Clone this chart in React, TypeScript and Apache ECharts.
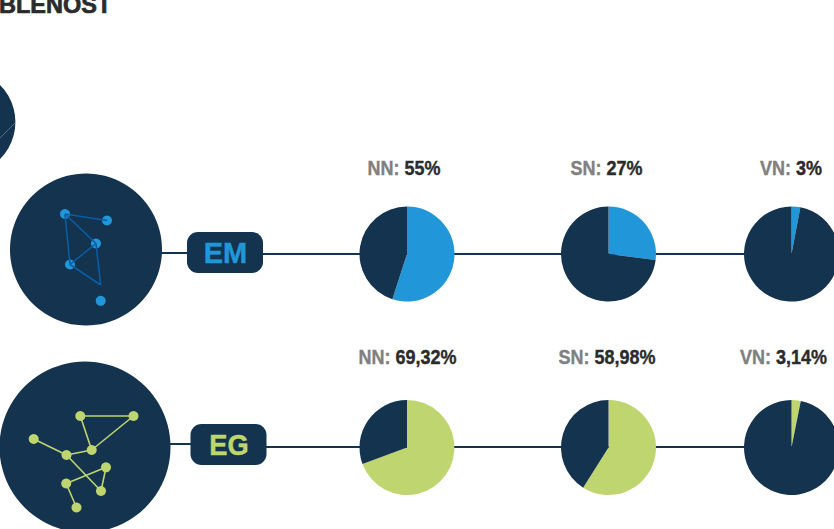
import React, { useEffect, useRef } from "react";
import * as echarts from "echarts";

const NAVY = "#13334e";
const BLUE = "#2196d8";
const GREEN = "#bfd56f";
const GREY = "#808080";
const INK = "#2b2b2b";
const SANS = "'Liberation Sans', sans-serif";

const levels = ["NN", "SN", "VN"];
const emValues = [55, 27, 3];
const emTexts = ["55%", "27%", "3%"];
const egValues = [69.32, 58.98, 3.14];
const egTexts = ["69,32%", "58,98%", "3,14%"];
const pieX = [407, 608.5, 791.5];
const labelX = [404, 606.5, 791];
const labelXEg = [407.5, 607, 783.5];

const emNodes = [[65, 214], [107, 220.5], [96, 243.5], [70, 264.5], [100.7, 300.8]];
const emEdges = [[65, 214, 107, 220.5], [65, 214, 96, 243.5], [65, 214, 70, 264.5], [96, 243.5, 70, 264.5], [96, 243.5, 100.7, 285], [70, 264.5, 100.7, 285]];
const egNodes = [[80.3, 416], [133.5, 416], [33.7, 439], [66.5, 455], [91.7, 450], [106, 467.3], [66.2, 483.5], [101, 491], [76.5, 507.5]];
const egEdges = [[80.3, 416, 133.5, 416], [80.3, 416, 91.7, 450], [133.5, 416, 91.7, 450], [33.7, 439, 66.5, 455], [66.5, 455, 91.7, 450], [66.5, 455, 101, 491], [106, 467.3, 66.2, 483.5], [106, 467.3, 101, 491], [66.2, 483.5, 76.5, 507.5]];

function pie(cx: number, cy: number, value: number, color: string) {
  return {
    type: "pie",
    center: [cx, cy],
    radius: [0, 47.5],
    startAngle: 90,
    clockwise: true,
    silent: true,
    label: { show: false },
    labelLine: { show: false },
    data: [
      { value, itemStyle: { color } },
      { value: 100 - value, itemStyle: { color: NAVY } },
    ],
  };
}

function connector(x1: number, x2: number, y: number) {
  return { type: "line", z: 0, shape: { x1, y1: y, x2, y2: y }, style: { stroke: NAVY, lineWidth: 2 } };
}

function valueLabel(cx: number, y: number, level: string, text: string) {
  return {
    type: "text",
    x: cx,
    y,
    scaleX: 0.857,
    style: {
      text: `{a|${level}: }{b|${text}}`,
      align: "center",
      verticalAlign: "middle",
      rich: {
        a: { font: `bold 21px ${SANS}`, fill: GREY, stroke: GREY, lineWidth: 0.4 },
        b: { font: `bold 21px ${SANS}`, fill: INK, stroke: INK, lineWidth: 0.4 },
      },
    },
  };
}

function badge(x: number, y: number, text: string, color: string, scaleX: number) {
  return [
    { type: "rect", shape: { x, y, width: 76, height: 41, r: 11 }, style: { fill: NAVY } },
    {
      type: "text",
      x: x + 38.5,
      y: y + 21,
      scaleX,
      style: { text, align: "center", verticalAlign: "middle", font: `bold 29px ${SANS}`, fill: color, stroke: color, lineWidth: 0.5 },
    },
  ];
}

function constellation(nodes: number[][], edges: number[][], color: string, stroke: string, r: number) {
  return [
    ...nodes.map(([cx, cy]) => ({ type: "circle", shape: { cx, cy, r }, style: { fill: color } })),
    ...edges.map(([x1, y1, x2, y2]) => ({
      type: "line",
      shape: { x1, y1, x2, y2 },
      style: { stroke, lineWidth: 1.6 },
    })),
  ];
}

export default function App() {
  const ref = useRef<HTMLDivElement>(null);
  useEffect(() => {
    const chart = echarts.init(ref.current!, undefined, { renderer: "svg" });
    chart.setOption({
      animation: false,
      backgroundColor: "#ffffff",
      series: [
        ...emValues.map((v, i) => pie(pieX[i], 254, v, BLUE)),
        ...egValues.map((v, i) => pie(pieX[i], 447.5, v, GREEN)),
      ],
      graphic: [
        { type: "group", z: -1, silent: true, children: [
          connector(160, 190, 253), connector(262, 800, 254),
          connector(168, 195, 444), connector(264, 800, 447),
        ]},
        { type: "group", z: 10, silent: true, children: [
          { type: "text", x: -1, y: 4.5, style: { text: "BLENOST", font: `bold 23.5px ${SANS}`, fill: INK, stroke: INK, lineWidth: 0.7, verticalAlign: "middle" } },
          { type: "circle", shape: { cx: -37, cy: 122, r: 52.4 }, style: { fill: NAVY } },
          { type: "line", shape: { x1: 0, y1: 138, x2: 15, y2: 123 }, style: { stroke: "#7f93a3", lineWidth: 0.6 } },
          { type: "circle", shape: { cx: 86, cy: 249.5, r: 76 }, style: { fill: NAVY } },
          { type: "circle", shape: { cx: 85, cy: 447, r: 85.5 }, style: { fill: NAVY } },
          ...constellation(emNodes, emEdges, BLUE, "#0a5da6", 5),
          ...constellation(egNodes, egEdges, GREEN, GREEN, 5),
          ...badge(187, 232, "EM", BLUE, 1),
          ...badge(190.5, 424, "EG", GREEN, 0.94),
          ...levels.map((l, i) => valueLabel(labelX[i], 167.5, l, emTexts[i])),
          ...levels.map((l, i) => valueLabel(labelXEg[i], 356, l, egTexts[i])),
        ]},
      ],
    });
    return () => chart.dispose();
  }, []);
  return <div ref={ref} style={{ position: "absolute", left: 0, top: 0, width: 834, height: 529 }} />;
}
